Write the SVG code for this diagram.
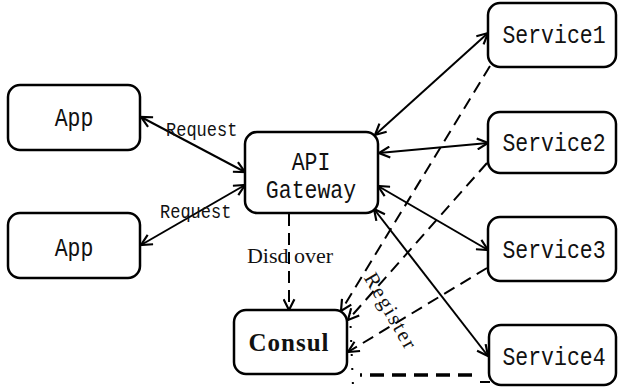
<svg xmlns="http://www.w3.org/2000/svg" width="618" height="387" viewBox="0 0 618 387">
<style>
.box{fill:#fff;stroke:#000;stroke-width:2.5}
.lbl{font-family:"Liberation Mono",monospace;font-size:21.5px;fill:#111;text-anchor:middle}
.req{font-family:"Liberation Mono",monospace;font-size:17px;fill:#111}
.ser{font-family:"Liberation Serif",serif;fill:#111}
.solid{stroke:#000;stroke-width:2;fill:none;marker-start:url(#ah);marker-end:url(#ah)}
.dash{stroke:#000;stroke-width:2;fill:none;stroke-dasharray:12 7;marker-end:url(#ah)}
</style>
<defs>
<marker id="ah" viewBox="0 0 12 12" refX="11" refY="6" markerWidth="13" markerHeight="13" markerUnits="userSpaceOnUse" orient="auto-start-reverse">
<path d="M1,1 L11,6 L1,11" fill="none" stroke="#000" stroke-width="2"/>
</marker>
</defs>
<rect width="618" height="387" fill="#fff"/>
<g id="connectors">
<line class="solid" x1="141" y1="117" x2="245" y2="172"/>
<line class="solid" x1="141" y1="245" x2="245" y2="185"/>
<line class="solid" x1="375" y1="135" x2="488" y2="33"/>
<line class="solid" x1="379" y1="153" x2="488" y2="143"/>
<line class="solid" x1="378" y1="186" x2="488" y2="250"/>
<line class="solid" x1="374" y1="209" x2="488" y2="356"/>
<line class="dash" x1="289" y1="214" x2="289" y2="310"/>
<line class="dash" x1="490" y1="66" x2="341" y2="311"/>
<line class="dash" x1="487" y1="163" x2="348" y2="320"/>
<line class="dash" x1="487" y1="268" x2="348" y2="352"/>
<line x1="472" y1="375" x2="360" y2="375" stroke="#000" stroke-width="3.5" stroke-dasharray="14 8"/>
<line x1="350" y1="312" x2="353" y2="387" stroke="#000" stroke-width="2" stroke-dasharray="2 12"/>
<line x1="480" y1="382" x2="490" y2="382" stroke="#000" stroke-width="2"/>
<text class="req" transform="translate(166 136) scale(1 1.2)">Request</text>
<text class="req" transform="translate(160 218) scale(1 1.2)">Request</text>
<text class="ser" x="290" y="263" font-size="22" text-anchor="middle">Disd over</text>
<text class="ser" x="385" y="315" font-size="21" letter-spacing="2" text-anchor="middle" transform="rotate(60 385 315)">Register</text>
</g>
<g id="app1"><rect class="box" x="8" y="85" width="132" height="65" rx="12"/><text class="lbl" transform="translate(74 126) scale(1 1.2)">App</text></g>
<g id="app2"><rect class="box" x="8" y="213" width="132" height="65" rx="12"/><text class="lbl" transform="translate(74 256) scale(1 1.2)">App</text></g>
<g id="gateway"><rect class="box" x="245" y="132" width="133" height="81" rx="12"/><text class="lbl" transform="translate(311 170) scale(1 1.2)">API</text><text class="lbl" transform="translate(311 198) scale(1 1.2)">Gateway</text></g>
<g id="consul"><rect class="box" x="234" y="310" width="113" height="64" rx="12"/><text class="ser" x="289" y="351" font-size="25" font-weight="bold" letter-spacing="1" text-anchor="middle">Consul</text></g>
<g id="service1"><rect class="box" x="488" y="3" width="128" height="64" rx="12"/><text class="lbl" transform="translate(554 43) scale(1 1.2)">Service1</text></g>
<g id="service2"><rect class="box" x="488" y="112" width="128" height="61" rx="12"/><text class="lbl" transform="translate(554 151) scale(1 1.2)">Service2</text></g>
<g id="service3"><rect class="box" x="488" y="217" width="128" height="64" rx="12"/><text class="lbl" transform="translate(554 258) scale(1 1.2)">Service3</text></g>
<g id="service4"><rect class="box" x="489" y="325" width="127" height="60" rx="12"/><text class="lbl" transform="translate(554 365) scale(1 1.2)">Service4</text></g>
</svg>
